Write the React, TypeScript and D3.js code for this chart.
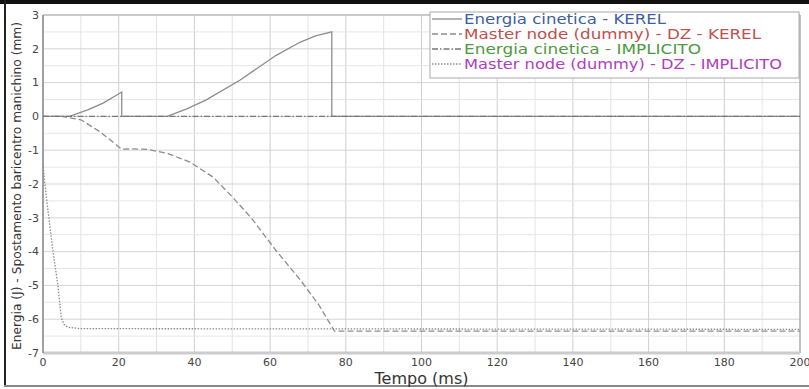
import * as d3 from 'd3';

const W = 809;
const H = 389;

// series: time (ms) and values
const kerelEnergyT = [0, 5, 7, 12, 16, 20.8, 20.8, 32.8, 38, 43, 52, 61.5, 68, 72, 76.3, 76.3, 200];
const kerelEnergyV = [0, 0, 0, 0.2, 0.4, 0.72, 0, 0, 0.22, 0.48, 1.07, 1.8, 2.2, 2.38, 2.5, 0, 0];

const kerelDzT = [0, 5, 10, 15, 20.8, 24, 28, 33, 38.8, 45, 50, 55, 61.5, 68, 73, 77, 200];
const kerelDzV = [0, 0, -0.1, -0.45, -0.97, -0.96, -0.98, -1.1, -1.35, -1.8, -2.38, -3.0, -3.96, -4.84, -5.6, -6.35, -6.35];

const implEnergyT = [0, 200];
const implEnergyV = [0, 0];

const implDzT = [0, 0.3, 1.3, 2.6, 4, 4.8, 5.5, 6.6, 10, 200];
const implDzV = [-1.4, -1.8, -2.77, -3.96, -5.05, -5.94, -6.15, -6.24, -6.28, -6.3];

const xTicks = [0, 20, 40, 60, 80, 100, 120, 140, 160, 180, 200];
const yTicks = [3, 2, 1, 0, -1, -2, -3, -4, -5, -6, -7];

const legendLabels = [
  'Energia cinetica - KEREL',
  'Master node (dummy) - DZ - KEREL',
  'Energia cinetica - IMPLICITO',
  'Master node (dummy) - DZ - IMPLICITO',
];
const legendColors = ['#3d5fa0', '#c0504d', '#4e9a3e', '#b03cc0'];
const legendWidths = [202, 297, 237, 318];

const font = '"DejaVu Sans", Verdana, sans-serif';

export default function App() {
  const left = 43, right = 800, top = 15, bottom = 353;
  const x = d3.scaleLinear().domain([0, 200]).range([left, right]);
  const y = d3.scaleLinear().domain([-7, 3]).range([bottom, top]);

  const line = d3.line<[number, number]>().x(d => x(d[0])).y(d => y(d[1])).curve(d3.curveLinear);
  const zip = (t: number[], v: number[]) => t.map((tt, i) => [tt, v[i]] as [number, number]);

  const series = [
    { d: zip(kerelEnergyT, kerelEnergyV), dash: undefined as string | undefined, color: '#8c8c8c' },
    { d: zip(kerelDzT, kerelDzV), dash: '6,3', color: '#8c8c8c' },
    { d: zip(implEnergyT, implEnergyV), dash: '6,2,1.5,2', color: '#777' },
    { d: zip(implDzT, implDzV), dash: '1.5,1.5', color: '#8c8c8c' },
  ];

  const minorX = d3.range(0, 201, 10);
  const minorY = d3.range(-7, 3.01, 0.5);

  return (
    <svg width={W} height={H} style={{ position: 'absolute', left: 0, top: 0, background: '#fff' }} fontFamily={font}>
      {/* outer frame */}
      <rect x={0} y={0} width={W} height={H} fill="#fff" />
      <rect x={0} y={0} width={W} height={4} fill="#111" />
      <rect x={4} y={0} width={2} height={387} fill="#222" />
      <rect x={4} y={385} width={W - 4} height={2} fill="#888" />

      {/* grid */}
      {minorX.map(v => (
        <line key={'gx' + v} x1={x(v)} x2={x(v)} y1={top} y2={bottom}
          stroke={v % 20 === 0 ? '#cfcfcf' : '#e3e3e3'} strokeWidth={1} />
      ))}
      {minorY.map(v => (
        <line key={'gy' + v} x1={left} x2={right} y1={y(v)} y2={y(v)}
          stroke={Number.isInteger(v) ? '#d4d4d4' : '#e6e6e6'} strokeWidth={1} />
      ))}

      {/* plot frame */}
      <line x1={left} x2={right} y1={top} y2={top} stroke="#aaa" />
      <line x1={right} x2={right} y1={top} y2={bottom} stroke="#999" />
      <line x1={left} x2={right} y1={bottom} y2={bottom} stroke="#ccc" strokeWidth={3} />
      <line x1={left} x2={left} y1={top} y2={bottom} stroke="#888" strokeWidth={1.5} />

      {/* series */}
      {series.map((s, i) => (
        <path key={i} d={line(s.d) || ''} fill="none" stroke={s.color} strokeWidth={1.3}
          strokeDasharray={s.dash} />
      ))}

      {/* tick labels */}
      {yTicks.map(v => (
        <text key={'yt' + v} x={left - 4} y={y(v)} dy="0.35em" textAnchor="end" fontSize={11} fill="#444">
          {v}
        </text>
      ))}
      {xTicks.map(v => (
        <text key={'xt' + v} x={x(v)} y={bottom + 13} textAnchor="middle" fontSize={11} fill="#444">
          {v}
        </text>
      ))}

      {/* axis titles */}
      <text x={x(100)} y={384} textAnchor="middle" fontSize={16} fill="#333">Tempo (ms)</text>
      <text transform={`translate(21,${(top + bottom) / 2 + 2}) rotate(-90)`} textAnchor="middle" fontSize={12.5}
        fill="#333" textLength={328} lengthAdjust="spacingAndGlyphs">
        Energia (J) - Spostamento baricentro manichino (mm)
      </text>

      {/* legend */}
      <rect x={430} y={12} width={369} height={66} fill="#fff" stroke="#aaa" />
      {legendLabels.map((lab, i) => {
        const ly = 19 + i * 15;
        return (
          <g key={lab}>
            <line x1={432} x2={462} y1={ly} y2={ly} stroke={series[i].color} strokeWidth={1.3}
              strokeDasharray={series[i].dash} />
            <text x={464} y={ly} dy="0.36em" fontSize={14} fill={legendColors[i]}
              textLength={legendWidths[i]} lengthAdjust="spacingAndGlyphs">{lab}</text>
          </g>
        );
      })}
    </svg>
  );
}
